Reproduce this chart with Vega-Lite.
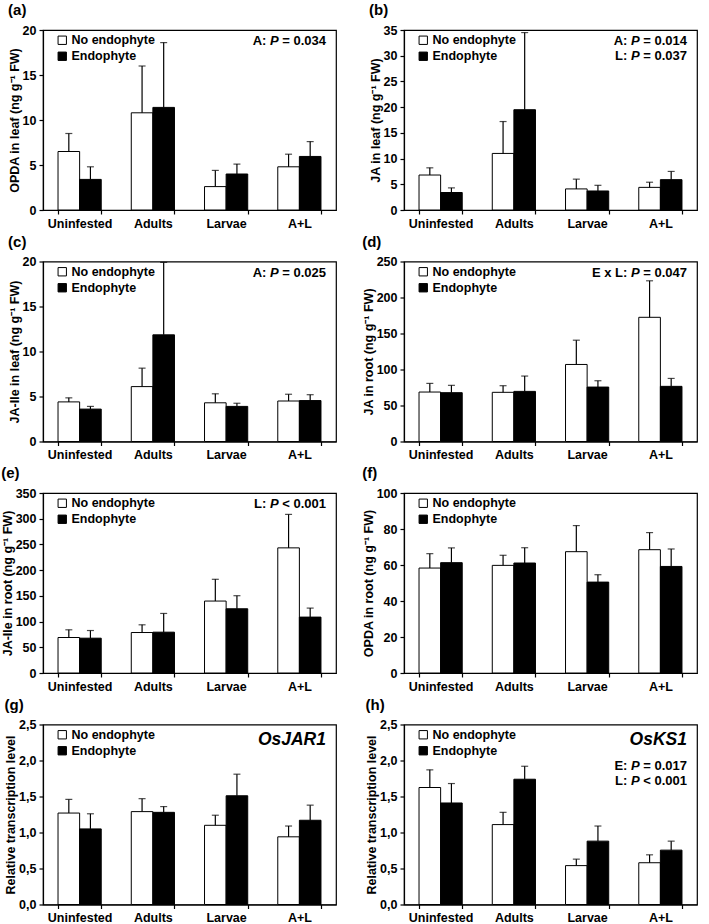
{
  "$schema": "https://vega.github.io/schema/vega-lite/v6.json",
  "padding": {"left": 0, "top": 2, "right": 0, "bottom": 0},
  "datasets": {
    "bars": [
      {"panel": "a", "group": "Uninfested", "series": "No endophyte", "value": 6.5, "upper": 8.5},
      {"panel": "a", "group": "Uninfested", "series": "Endophyte", "value": 3.4, "upper": 4.8},
      {"panel": "a", "group": "Adults", "series": "No endophyte", "value": 10.8, "upper": 16.0},
      {"panel": "a", "group": "Adults", "series": "Endophyte", "value": 11.4, "upper": 18.6},
      {"panel": "a", "group": "Larvae", "series": "No endophyte", "value": 2.6, "upper": 4.4},
      {"panel": "a", "group": "Larvae", "series": "Endophyte", "value": 4.0, "upper": 5.1},
      {"panel": "a", "group": "A+L", "series": "No endophyte", "value": 4.8, "upper": 6.2},
      {"panel": "a", "group": "A+L", "series": "Endophyte", "value": 5.95, "upper": 7.6},
      {"panel": "b", "group": "Uninfested", "series": "No endophyte", "value": 6.8, "upper": 8.2},
      {"panel": "b", "group": "Uninfested", "series": "Endophyte", "value": 3.4, "upper": 4.3},
      {"panel": "b", "group": "Adults", "series": "No endophyte", "value": 11.0, "upper": 17.2},
      {"panel": "b", "group": "Adults", "series": "Endophyte", "value": 19.5, "upper": 34.5},
      {"panel": "b", "group": "Larvae", "series": "No endophyte", "value": 4.1, "upper": 6.0},
      {"panel": "b", "group": "Larvae", "series": "Endophyte", "value": 3.7, "upper": 4.8},
      {"panel": "b", "group": "A+L", "series": "No endophyte", "value": 4.4, "upper": 5.4},
      {"panel": "b", "group": "A+L", "series": "Endophyte", "value": 5.9, "upper": 7.5},
      {"panel": "c", "group": "Uninfested", "series": "No endophyte", "value": 4.4, "upper": 4.85},
      {"panel": "c", "group": "Uninfested", "series": "Endophyte", "value": 3.6, "upper": 3.9},
      {"panel": "c", "group": "Adults", "series": "No endophyte", "value": 6.1, "upper": 8.15},
      {"panel": "c", "group": "Adults", "series": "Endophyte", "value": 11.85, "upper": 19.9},
      {"panel": "c", "group": "Larvae", "series": "No endophyte", "value": 4.3, "upper": 5.3},
      {"panel": "c", "group": "Larvae", "series": "Endophyte", "value": 3.9, "upper": 4.25},
      {"panel": "c", "group": "A+L", "series": "No endophyte", "value": 4.5, "upper": 5.25},
      {"panel": "c", "group": "A+L", "series": "Endophyte", "value": 4.55, "upper": 5.2},
      {"panel": "d", "group": "Uninfested", "series": "No endophyte", "value": 68.7, "upper": 80.7},
      {"panel": "d", "group": "Uninfested", "series": "Endophyte", "value": 67.8, "upper": 78.0},
      {"panel": "d", "group": "Adults", "series": "No endophyte", "value": 68.3, "upper": 77.5},
      {"panel": "d", "group": "Adults", "series": "Endophyte", "value": 69.6, "upper": 90.9},
      {"panel": "d", "group": "Larvae", "series": "No endophyte", "value": 107.0, "upper": 140.7},
      {"panel": "d", "group": "Larvae", "series": "Endophyte", "value": 75.6, "upper": 84.4},
      {"panel": "d", "group": "A+L", "series": "No endophyte", "value": 172.5, "upper": 223.2},
      {"panel": "d", "group": "A+L", "series": "Endophyte", "value": 76.6, "upper": 87.6},
      {"panel": "e", "group": "Uninfested", "series": "No endophyte", "value": 69.0, "upper": 84.0},
      {"panel": "e", "group": "Uninfested", "series": "Endophyte", "value": 67.7, "upper": 82.6},
      {"panel": "e", "group": "Adults", "series": "No endophyte", "value": 78.7, "upper": 93.7},
      {"panel": "e", "group": "Adults", "series": "Endophyte", "value": 79.4, "upper": 115.8},
      {"panel": "e", "group": "Larvae", "series": "No endophyte", "value": 139.9, "upper": 182.2},
      {"panel": "e", "group": "Larvae", "series": "Endophyte", "value": 124.9, "upper": 150.3},
      {"panel": "e", "group": "A+L", "series": "No endophyte", "value": 243.3, "upper": 308.4},
      {"panel": "e", "group": "A+L", "series": "Endophyte", "value": 108.7, "upper": 126.2},
      {"panel": "f", "group": "Uninfested", "series": "No endophyte", "value": 58.3, "upper": 66.3},
      {"panel": "f", "group": "Uninfested", "series": "Endophyte", "value": 61.3, "upper": 69.5},
      {"panel": "f", "group": "Adults", "series": "No endophyte", "value": 59.8, "upper": 65.4},
      {"panel": "f", "group": "Adults", "series": "Endophyte", "value": 61.1, "upper": 69.6},
      {"panel": "f", "group": "Larvae", "series": "No endophyte", "value": 67.4, "upper": 81.9},
      {"panel": "f", "group": "Larvae", "series": "Endophyte", "value": 50.5, "upper": 54.6},
      {"panel": "f", "group": "A+L", "series": "No endophyte", "value": 68.5, "upper": 78.0},
      {"panel": "f", "group": "A+L", "series": "Endophyte", "value": 59.2, "upper": 68.9},
      {"panel": "g", "group": "Uninfested", "series": "No endophyte", "value": 1.27, "upper": 1.46},
      {"panel": "g", "group": "Uninfested", "series": "Endophyte", "value": 1.05, "upper": 1.26},
      {"panel": "g", "group": "Adults", "series": "No endophyte", "value": 1.29, "upper": 1.47},
      {"panel": "g", "group": "Adults", "series": "Endophyte", "value": 1.28, "upper": 1.36},
      {"panel": "g", "group": "Larvae", "series": "No endophyte", "value": 1.10, "upper": 1.24},
      {"panel": "g", "group": "Larvae", "series": "Endophyte", "value": 1.51, "upper": 1.81},
      {"panel": "g", "group": "A+L", "series": "No endophyte", "value": 0.94, "upper": 1.09},
      {"panel": "g", "group": "A+L", "series": "Endophyte", "value": 1.17, "upper": 1.38},
      {"panel": "h", "group": "Uninfested", "series": "No endophyte", "value": 1.625, "upper": 1.87},
      {"panel": "h", "group": "Uninfested", "series": "Endophyte", "value": 1.41, "upper": 1.68},
      {"panel": "h", "group": "Adults", "series": "No endophyte", "value": 1.11, "upper": 1.28},
      {"panel": "h", "group": "Adults", "series": "Endophyte", "value": 1.74, "upper": 1.92},
      {"panel": "h", "group": "Larvae", "series": "No endophyte", "value": 0.54, "upper": 0.63},
      {"panel": "h", "group": "Larvae", "series": "Endophyte", "value": 0.88, "upper": 1.09},
      {"panel": "h", "group": "A+L", "series": "No endophyte", "value": 0.58, "upper": 0.69},
      {"panel": "h", "group": "A+L", "series": "Endophyte", "value": 0.755, "upper": 0.88}
    ],
    "notes": [
      {"panel": "a", "pre": ["A:"], "p": ["P"], "post": ["= 0.034"]},
      {"panel": "b", "pre": ["A:", "L:"], "p": ["P", "P"], "post": ["= 0.014", "= 0.037"]},
      {"panel": "c", "pre": ["A:"], "p": ["P"], "post": ["= 0.025"]},
      {"panel": "d", "pre": ["E x L:"], "p": ["P"], "post": ["= 0.047"]},
      {"panel": "e", "pre": ["L:"], "p": ["P"], "post": ["< 0.001"]},
      {"panel": "h", "pre": ["E:", "L:"], "p": ["P", "P"], "post": ["= 0.017", "< 0.001"]}
    ],
    "genes": [
      {"panel": "g", "gene": "OsJAR1"},
      {"panel": "h", "gene": "OsKS1"}
    ]
  },
  "columns": 2,
  "spacing": {"row": 2.5, "column": 24},
  "resolve": {"scale": {"fill": "independent", "y": "independent", "x": "independent", "xOffset": "independent"}, "legend": {"fill": "independent"}, "axis": {"y": "independent", "x": "independent"}},
  "concat": [
    {
      "title": "(a)", "width": 293, "height": 180,
      "layer": [
        {"data": {"name": "bars"}, "transform": [{"filter": "datum.panel == 'a'"}],
         "mark": {"type": "bar", "stroke": "black", "strokeWidth": 1},
         "encoding": {
           "x": {"field": "group", "type": "nominal", "sort": ["Uninfested", "Adults", "Larvae", "A+L"], "scale": {"paddingInner": 0.41, "paddingOuter": 0.205}},
           "xOffset": {"field": "series", "type": "nominal", "sort": ["No endophyte", "Endophyte"], "scale": {"paddingInner": 0, "paddingOuter": 0}},
           "y": {"field": "value", "type": "quantitative", "scale": {"domain": [0, 20], "nice": false}, "axis": {"title": "OPDA in leaf (ng g⁻¹ FW)", "values": [0, 5, 10, 15, 20], "tickCount": 20}},
           "fill": {"field": "series", "type": "nominal", "sort": ["No endophyte", "Endophyte"], "scale": {"domain": ["No endophyte", "Endophyte"], "range": ["white", "black"]}, "legend": {"orient": "none", "legendX": 13, "legendY": 4}}
         }},
        {"data": {"name": "bars"}, "transform": [{"filter": "datum.panel == 'a'"}],
         "mark": {"type": "rule", "color": "black", "strokeWidth": 1.2},
         "encoding": {
           "x": {"field": "group", "type": "nominal", "sort": ["Uninfested", "Adults", "Larvae", "A+L"]},
           "xOffset": {"field": "series", "type": "nominal", "sort": ["No endophyte", "Endophyte"]},
           "y": {"field": "value", "type": "quantitative"}, "y2": {"field": "upper"}
         }},
        {"data": {"name": "bars"}, "transform": [{"filter": "datum.panel == 'a'"}],
         "mark": {"type": "tick", "color": "black", "thickness": 1.2, "size": 7},
         "encoding": {
           "x": {"field": "group", "type": "nominal", "sort": ["Uninfested", "Adults", "Larvae", "A+L"]},
           "xOffset": {"field": "series", "type": "nominal", "sort": ["No endophyte", "Endophyte"]},
           "y": {"field": "upper", "type": "quantitative"}
         }},
        {"data": {"name": "notes"}, "transform": [{"filter": "datum.panel == 'a'"}],
         "mark": {"type": "text", "align": "right", "baseline": "top", "fontSize": 13, "fontWeight": "bold", "lineHeight": 15, "dx": -10},
         "encoding": {"x": {"value": "width"}, "y": {"value": 5}, "text": {"field": "post", "type": "nominal"}}},
        {"data": {"name": "notes"}, "transform": [{"filter": "datum.panel == 'a'"}],
         "mark": {"type": "text", "align": "right", "baseline": "top", "fontSize": 13, "fontWeight": "bold", "fontStyle": "italic", "lineHeight": 15, "dx": -57.3},
         "encoding": {"x": {"value": "width"}, "y": {"value": 5}, "text": {"field": "p", "type": "nominal"}}},
        {"data": {"name": "notes"}, "transform": [{"filter": "datum.panel == 'a'"}],
         "mark": {"type": "text", "align": "right", "baseline": "top", "fontSize": 13, "fontWeight": "bold", "lineHeight": 15, "dx": -69.6},
         "encoding": {"x": {"value": "width"}, "y": {"value": 5}, "text": {"field": "pre", "type": "nominal"}}}
      ]
    },
    {
      "title": "(b)", "width": 293, "height": 180,
      "layer": [
        {"data": {"name": "bars"}, "transform": [{"filter": "datum.panel == 'b'"}],
         "mark": {"type": "bar", "stroke": "black", "strokeWidth": 1},
         "encoding": {
           "x": {"field": "group", "type": "nominal", "sort": ["Uninfested", "Adults", "Larvae", "A+L"], "scale": {"paddingInner": 0.41, "paddingOuter": 0.205}},
           "xOffset": {"field": "series", "type": "nominal", "sort": ["No endophyte", "Endophyte"], "scale": {"paddingInner": 0, "paddingOuter": 0}},
           "y": {"field": "value", "type": "quantitative", "scale": {"domain": [0, 35], "nice": false}, "axis": {"title": "JA in leaf (ng g⁻¹ FW)", "values": [0, 5, 10, 15, 20, 25, 30, 35], "tickCount": 20}},
           "fill": {"field": "series", "type": "nominal", "sort": ["No endophyte", "Endophyte"], "scale": {"domain": ["No endophyte", "Endophyte"], "range": ["white", "black"]}, "legend": {"orient": "none", "legendX": 13, "legendY": 4}}
         }},
        {"data": {"name": "bars"}, "transform": [{"filter": "datum.panel == 'b'"}],
         "mark": {"type": "rule", "color": "black", "strokeWidth": 1.2},
         "encoding": {
           "x": {"field": "group", "type": "nominal", "sort": ["Uninfested", "Adults", "Larvae", "A+L"]},
           "xOffset": {"field": "series", "type": "nominal", "sort": ["No endophyte", "Endophyte"]},
           "y": {"field": "value", "type": "quantitative"}, "y2": {"field": "upper"}
         }},
        {"data": {"name": "bars"}, "transform": [{"filter": "datum.panel == 'b'"}],
         "mark": {"type": "tick", "color": "black", "thickness": 1.2, "size": 7},
         "encoding": {
           "x": {"field": "group", "type": "nominal", "sort": ["Uninfested", "Adults", "Larvae", "A+L"]},
           "xOffset": {"field": "series", "type": "nominal", "sort": ["No endophyte", "Endophyte"]},
           "y": {"field": "upper", "type": "quantitative"}
         }},
        {"data": {"name": "notes"}, "transform": [{"filter": "datum.panel == 'b'"}],
         "mark": {"type": "text", "align": "right", "baseline": "top", "fontSize": 13, "fontWeight": "bold", "lineHeight": 15, "dx": -10},
         "encoding": {"x": {"value": "width"}, "y": {"value": 5}, "text": {"field": "post", "type": "nominal"}}},
        {"data": {"name": "notes"}, "transform": [{"filter": "datum.panel == 'b'"}],
         "mark": {"type": "text", "align": "right", "baseline": "top", "fontSize": 13, "fontWeight": "bold", "fontStyle": "italic", "lineHeight": 15, "dx": -57.3},
         "encoding": {"x": {"value": "width"}, "y": {"value": 5}, "text": {"field": "p", "type": "nominal"}}},
        {"data": {"name": "notes"}, "transform": [{"filter": "datum.panel == 'b'"}],
         "mark": {"type": "text", "align": "right", "baseline": "top", "fontSize": 13, "fontWeight": "bold", "lineHeight": 15, "dx": -69.6},
         "encoding": {"x": {"value": "width"}, "y": {"value": 5}, "text": {"field": "pre", "type": "nominal"}}}
      ]
    },
    {
      "title": "(c)", "width": 293, "height": 180,
      "layer": [
        {"data": {"name": "bars"}, "transform": [{"filter": "datum.panel == 'c'"}],
         "mark": {"type": "bar", "stroke": "black", "strokeWidth": 1},
         "encoding": {
           "x": {"field": "group", "type": "nominal", "sort": ["Uninfested", "Adults", "Larvae", "A+L"], "scale": {"paddingInner": 0.41, "paddingOuter": 0.205}},
           "xOffset": {"field": "series", "type": "nominal", "sort": ["No endophyte", "Endophyte"], "scale": {"paddingInner": 0, "paddingOuter": 0}},
           "y": {"field": "value", "type": "quantitative", "scale": {"domain": [0, 20], "nice": false}, "axis": {"title": "JA-Ile in leaf (ng g⁻¹ FW)", "values": [0, 5, 10, 15, 20], "tickCount": 20}},
           "fill": {"field": "series", "type": "nominal", "sort": ["No endophyte", "Endophyte"], "scale": {"domain": ["No endophyte", "Endophyte"], "range": ["white", "black"]}, "legend": {"orient": "none", "legendX": 13, "legendY": 4}}
         }},
        {"data": {"name": "bars"}, "transform": [{"filter": "datum.panel == 'c'"}],
         "mark": {"type": "rule", "color": "black", "strokeWidth": 1.2},
         "encoding": {
           "x": {"field": "group", "type": "nominal", "sort": ["Uninfested", "Adults", "Larvae", "A+L"]},
           "xOffset": {"field": "series", "type": "nominal", "sort": ["No endophyte", "Endophyte"]},
           "y": {"field": "value", "type": "quantitative"}, "y2": {"field": "upper"}
         }},
        {"data": {"name": "bars"}, "transform": [{"filter": "datum.panel == 'c'"}],
         "mark": {"type": "tick", "color": "black", "thickness": 1.2, "size": 7},
         "encoding": {
           "x": {"field": "group", "type": "nominal", "sort": ["Uninfested", "Adults", "Larvae", "A+L"]},
           "xOffset": {"field": "series", "type": "nominal", "sort": ["No endophyte", "Endophyte"]},
           "y": {"field": "upper", "type": "quantitative"}
         }},
        {"data": {"name": "notes"}, "transform": [{"filter": "datum.panel == 'c'"}],
         "mark": {"type": "text", "align": "right", "baseline": "top", "fontSize": 13, "fontWeight": "bold", "lineHeight": 15, "dx": -10},
         "encoding": {"x": {"value": "width"}, "y": {"value": 5}, "text": {"field": "post", "type": "nominal"}}},
        {"data": {"name": "notes"}, "transform": [{"filter": "datum.panel == 'c'"}],
         "mark": {"type": "text", "align": "right", "baseline": "top", "fontSize": 13, "fontWeight": "bold", "fontStyle": "italic", "lineHeight": 15, "dx": -57.3},
         "encoding": {"x": {"value": "width"}, "y": {"value": 5}, "text": {"field": "p", "type": "nominal"}}},
        {"data": {"name": "notes"}, "transform": [{"filter": "datum.panel == 'c'"}],
         "mark": {"type": "text", "align": "right", "baseline": "top", "fontSize": 13, "fontWeight": "bold", "lineHeight": 15, "dx": -69.6},
         "encoding": {"x": {"value": "width"}, "y": {"value": 5}, "text": {"field": "pre", "type": "nominal"}}}
      ]
    },
    {
      "title": "(d)", "width": 293, "height": 180,
      "layer": [
        {"data": {"name": "bars"}, "transform": [{"filter": "datum.panel == 'd'"}],
         "mark": {"type": "bar", "stroke": "black", "strokeWidth": 1},
         "encoding": {
           "x": {"field": "group", "type": "nominal", "sort": ["Uninfested", "Adults", "Larvae", "A+L"], "scale": {"paddingInner": 0.41, "paddingOuter": 0.205}},
           "xOffset": {"field": "series", "type": "nominal", "sort": ["No endophyte", "Endophyte"], "scale": {"paddingInner": 0, "paddingOuter": 0}},
           "y": {"field": "value", "type": "quantitative", "scale": {"domain": [0, 250], "nice": false}, "axis": {"title": "JA in root (ng g⁻¹ FW)", "values": [0, 50, 100, 150, 200, 250], "tickCount": 20}},
           "fill": {"field": "series", "type": "nominal", "sort": ["No endophyte", "Endophyte"], "scale": {"domain": ["No endophyte", "Endophyte"], "range": ["white", "black"]}, "legend": {"orient": "none", "legendX": 13, "legendY": 4}}
         }},
        {"data": {"name": "bars"}, "transform": [{"filter": "datum.panel == 'd'"}],
         "mark": {"type": "rule", "color": "black", "strokeWidth": 1.2},
         "encoding": {
           "x": {"field": "group", "type": "nominal", "sort": ["Uninfested", "Adults", "Larvae", "A+L"]},
           "xOffset": {"field": "series", "type": "nominal", "sort": ["No endophyte", "Endophyte"]},
           "y": {"field": "value", "type": "quantitative"}, "y2": {"field": "upper"}
         }},
        {"data": {"name": "bars"}, "transform": [{"filter": "datum.panel == 'd'"}],
         "mark": {"type": "tick", "color": "black", "thickness": 1.2, "size": 7},
         "encoding": {
           "x": {"field": "group", "type": "nominal", "sort": ["Uninfested", "Adults", "Larvae", "A+L"]},
           "xOffset": {"field": "series", "type": "nominal", "sort": ["No endophyte", "Endophyte"]},
           "y": {"field": "upper", "type": "quantitative"}
         }},
        {"data": {"name": "notes"}, "transform": [{"filter": "datum.panel == 'd'"}],
         "mark": {"type": "text", "align": "right", "baseline": "top", "fontSize": 13, "fontWeight": "bold", "lineHeight": 15, "dx": -10},
         "encoding": {"x": {"value": "width"}, "y": {"value": 5}, "text": {"field": "post", "type": "nominal"}}},
        {"data": {"name": "notes"}, "transform": [{"filter": "datum.panel == 'd'"}],
         "mark": {"type": "text", "align": "right", "baseline": "top", "fontSize": 13, "fontWeight": "bold", "fontStyle": "italic", "lineHeight": 15, "dx": -57.3},
         "encoding": {"x": {"value": "width"}, "y": {"value": 5}, "text": {"field": "p", "type": "nominal"}}},
        {"data": {"name": "notes"}, "transform": [{"filter": "datum.panel == 'd'"}],
         "mark": {"type": "text", "align": "right", "baseline": "top", "fontSize": 13, "fontWeight": "bold", "lineHeight": 15, "dx": -69.6},
         "encoding": {"x": {"value": "width"}, "y": {"value": 5}, "text": {"field": "pre", "type": "nominal"}}}
      ]
    },
    {
      "title": "(e)", "width": 293, "height": 180,
      "layer": [
        {"data": {"name": "bars"}, "transform": [{"filter": "datum.panel == 'e'"}],
         "mark": {"type": "bar", "stroke": "black", "strokeWidth": 1},
         "encoding": {
           "x": {"field": "group", "type": "nominal", "sort": ["Uninfested", "Adults", "Larvae", "A+L"], "scale": {"paddingInner": 0.41, "paddingOuter": 0.205}},
           "xOffset": {"field": "series", "type": "nominal", "sort": ["No endophyte", "Endophyte"], "scale": {"paddingInner": 0, "paddingOuter": 0}},
           "y": {"field": "value", "type": "quantitative", "scale": {"domain": [0, 350], "nice": false}, "axis": {"title": "JA-Ile in root (ng g⁻¹ FW)", "values": [0, 50, 100, 150, 200, 250, 300, 350], "tickCount": 20}},
           "fill": {"field": "series", "type": "nominal", "sort": ["No endophyte", "Endophyte"], "scale": {"domain": ["No endophyte", "Endophyte"], "range": ["white", "black"]}, "legend": {"orient": "none", "legendX": 13, "legendY": 4}}
         }},
        {"data": {"name": "bars"}, "transform": [{"filter": "datum.panel == 'e'"}],
         "mark": {"type": "rule", "color": "black", "strokeWidth": 1.2},
         "encoding": {
           "x": {"field": "group", "type": "nominal", "sort": ["Uninfested", "Adults", "Larvae", "A+L"]},
           "xOffset": {"field": "series", "type": "nominal", "sort": ["No endophyte", "Endophyte"]},
           "y": {"field": "value", "type": "quantitative"}, "y2": {"field": "upper"}
         }},
        {"data": {"name": "bars"}, "transform": [{"filter": "datum.panel == 'e'"}],
         "mark": {"type": "tick", "color": "black", "thickness": 1.2, "size": 7},
         "encoding": {
           "x": {"field": "group", "type": "nominal", "sort": ["Uninfested", "Adults", "Larvae", "A+L"]},
           "xOffset": {"field": "series", "type": "nominal", "sort": ["No endophyte", "Endophyte"]},
           "y": {"field": "upper", "type": "quantitative"}
         }},
        {"data": {"name": "notes"}, "transform": [{"filter": "datum.panel == 'e'"}],
         "mark": {"type": "text", "align": "right", "baseline": "top", "fontSize": 13, "fontWeight": "bold", "lineHeight": 15, "dx": -10},
         "encoding": {"x": {"value": "width"}, "y": {"value": 5}, "text": {"field": "post", "type": "nominal"}}},
        {"data": {"name": "notes"}, "transform": [{"filter": "datum.panel == 'e'"}],
         "mark": {"type": "text", "align": "right", "baseline": "top", "fontSize": 13, "fontWeight": "bold", "fontStyle": "italic", "lineHeight": 15, "dx": -57.3},
         "encoding": {"x": {"value": "width"}, "y": {"value": 5}, "text": {"field": "p", "type": "nominal"}}},
        {"data": {"name": "notes"}, "transform": [{"filter": "datum.panel == 'e'"}],
         "mark": {"type": "text", "align": "right", "baseline": "top", "fontSize": 13, "fontWeight": "bold", "lineHeight": 15, "dx": -69.6},
         "encoding": {"x": {"value": "width"}, "y": {"value": 5}, "text": {"field": "pre", "type": "nominal"}}}
      ]
    },
    {
      "title": "(f)", "width": 293, "height": 180,
      "layer": [
        {"data": {"name": "bars"}, "transform": [{"filter": "datum.panel == 'f'"}],
         "mark": {"type": "bar", "stroke": "black", "strokeWidth": 1},
         "encoding": {
           "x": {"field": "group", "type": "nominal", "sort": ["Uninfested", "Adults", "Larvae", "A+L"], "scale": {"paddingInner": 0.41, "paddingOuter": 0.205}},
           "xOffset": {"field": "series", "type": "nominal", "sort": ["No endophyte", "Endophyte"], "scale": {"paddingInner": 0, "paddingOuter": 0}},
           "y": {"field": "value", "type": "quantitative", "scale": {"domain": [0, 100], "nice": false}, "axis": {"title": "OPDA in root (ng g⁻¹ FW)", "values": [0, 20, 40, 60, 80, 100], "tickCount": 20}},
           "fill": {"field": "series", "type": "nominal", "sort": ["No endophyte", "Endophyte"], "scale": {"domain": ["No endophyte", "Endophyte"], "range": ["white", "black"]}, "legend": {"orient": "none", "legendX": 13, "legendY": 4}}
         }},
        {"data": {"name": "bars"}, "transform": [{"filter": "datum.panel == 'f'"}],
         "mark": {"type": "rule", "color": "black", "strokeWidth": 1.2},
         "encoding": {
           "x": {"field": "group", "type": "nominal", "sort": ["Uninfested", "Adults", "Larvae", "A+L"]},
           "xOffset": {"field": "series", "type": "nominal", "sort": ["No endophyte", "Endophyte"]},
           "y": {"field": "value", "type": "quantitative"}, "y2": {"field": "upper"}
         }},
        {"data": {"name": "bars"}, "transform": [{"filter": "datum.panel == 'f'"}],
         "mark": {"type": "tick", "color": "black", "thickness": 1.2, "size": 7},
         "encoding": {
           "x": {"field": "group", "type": "nominal", "sort": ["Uninfested", "Adults", "Larvae", "A+L"]},
           "xOffset": {"field": "series", "type": "nominal", "sort": ["No endophyte", "Endophyte"]},
           "y": {"field": "upper", "type": "quantitative"}
         }}
      ]
    },
    {
      "title": "(g)", "width": 293, "height": 180,
      "layer": [
        {"data": {"name": "bars"}, "transform": [{"filter": "datum.panel == 'g'"}],
         "mark": {"type": "bar", "stroke": "black", "strokeWidth": 1},
         "encoding": {
           "x": {"field": "group", "type": "nominal", "sort": ["Uninfested", "Adults", "Larvae", "A+L"], "scale": {"paddingInner": 0.41, "paddingOuter": 0.205}},
           "xOffset": {"field": "series", "type": "nominal", "sort": ["No endophyte", "Endophyte"], "scale": {"paddingInner": 0, "paddingOuter": 0}},
           "y": {"field": "value", "type": "quantitative", "scale": {"domain": [0, 2.5], "nice": false}, "axis": {"title": "Relative transcription level", "values": [0, 0.5, 1, 1.5, 2, 2.5], "tickCount": 20, "labelExpr": "replace(format(datum.value, '.1f'), '.', ',')"}},
           "fill": {"field": "series", "type": "nominal", "sort": ["No endophyte", "Endophyte"], "scale": {"domain": ["No endophyte", "Endophyte"], "range": ["white", "black"]}, "legend": {"orient": "none", "legendX": 13, "legendY": 4}}
         }},
        {"data": {"name": "bars"}, "transform": [{"filter": "datum.panel == 'g'"}],
         "mark": {"type": "rule", "color": "black", "strokeWidth": 1.2},
         "encoding": {
           "x": {"field": "group", "type": "nominal", "sort": ["Uninfested", "Adults", "Larvae", "A+L"]},
           "xOffset": {"field": "series", "type": "nominal", "sort": ["No endophyte", "Endophyte"]},
           "y": {"field": "value", "type": "quantitative"}, "y2": {"field": "upper"}
         }},
        {"data": {"name": "bars"}, "transform": [{"filter": "datum.panel == 'g'"}],
         "mark": {"type": "tick", "color": "black", "thickness": 1.2, "size": 7},
         "encoding": {
           "x": {"field": "group", "type": "nominal", "sort": ["Uninfested", "Adults", "Larvae", "A+L"]},
           "xOffset": {"field": "series", "type": "nominal", "sort": ["No endophyte", "Endophyte"]},
           "y": {"field": "upper", "type": "quantitative"}
         }},
        {"data": {"name": "genes"}, "transform": [{"filter": "datum.panel == 'g'"}],
         "mark": {"type": "text", "align": "right", "baseline": "middle", "fontSize": 17.5, "fontWeight": "bold", "fontStyle": "italic", "dx": -10},
         "encoding": {"x": {"value": "width"}, "y": {"value": 15}, "text": {"field": "gene", "type": "nominal"}}}
      ]
    },
    {
      "title": "(h)", "width": 293, "height": 180,
      "layer": [
        {"data": {"name": "bars"}, "transform": [{"filter": "datum.panel == 'h'"}],
         "mark": {"type": "bar", "stroke": "black", "strokeWidth": 1},
         "encoding": {
           "x": {"field": "group", "type": "nominal", "sort": ["Uninfested", "Adults", "Larvae", "A+L"], "scale": {"paddingInner": 0.41, "paddingOuter": 0.205}},
           "xOffset": {"field": "series", "type": "nominal", "sort": ["No endophyte", "Endophyte"], "scale": {"paddingInner": 0, "paddingOuter": 0}},
           "y": {"field": "value", "type": "quantitative", "scale": {"domain": [0, 2.5], "nice": false}, "axis": {"title": "Relative transcription level", "values": [0, 0.5, 1, 1.5, 2, 2.5], "tickCount": 20, "labelExpr": "replace(format(datum.value, '.1f'), '.', ',')"}},
           "fill": {"field": "series", "type": "nominal", "sort": ["No endophyte", "Endophyte"], "scale": {"domain": ["No endophyte", "Endophyte"], "range": ["white", "black"]}, "legend": {"orient": "none", "legendX": 13, "legendY": 4}}
         }},
        {"data": {"name": "bars"}, "transform": [{"filter": "datum.panel == 'h'"}],
         "mark": {"type": "rule", "color": "black", "strokeWidth": 1.2},
         "encoding": {
           "x": {"field": "group", "type": "nominal", "sort": ["Uninfested", "Adults", "Larvae", "A+L"]},
           "xOffset": {"field": "series", "type": "nominal", "sort": ["No endophyte", "Endophyte"]},
           "y": {"field": "value", "type": "quantitative"}, "y2": {"field": "upper"}
         }},
        {"data": {"name": "bars"}, "transform": [{"filter": "datum.panel == 'h'"}],
         "mark": {"type": "tick", "color": "black", "thickness": 1.2, "size": 7},
         "encoding": {
           "x": {"field": "group", "type": "nominal", "sort": ["Uninfested", "Adults", "Larvae", "A+L"]},
           "xOffset": {"field": "series", "type": "nominal", "sort": ["No endophyte", "Endophyte"]},
           "y": {"field": "upper", "type": "quantitative"}
         }},
        {"data": {"name": "genes"}, "transform": [{"filter": "datum.panel == 'h'"}],
         "mark": {"type": "text", "align": "right", "baseline": "middle", "fontSize": 17.5, "fontWeight": "bold", "fontStyle": "italic", "dx": -10},
         "encoding": {"x": {"value": "width"}, "y": {"value": 15}, "text": {"field": "gene", "type": "nominal"}}},
        {"data": {"name": "notes"}, "transform": [{"filter": "datum.panel == 'h'"}],
         "mark": {"type": "text", "align": "right", "baseline": "top", "fontSize": 13, "fontWeight": "bold", "lineHeight": 15, "dx": -10},
         "encoding": {"x": {"value": "width"}, "y": {"value": 35}, "text": {"field": "post", "type": "nominal"}}},
        {"data": {"name": "notes"}, "transform": [{"filter": "datum.panel == 'h'"}],
         "mark": {"type": "text", "align": "right", "baseline": "top", "fontSize": 13, "fontWeight": "bold", "fontStyle": "italic", "lineHeight": 15, "dx": -57.3},
         "encoding": {"x": {"value": "width"}, "y": {"value": 35}, "text": {"field": "p", "type": "nominal"}}},
        {"data": {"name": "notes"}, "transform": [{"filter": "datum.panel == 'h'"}],
         "mark": {"type": "text", "align": "right", "baseline": "top", "fontSize": 13, "fontWeight": "bold", "lineHeight": 15, "dx": -69.6},
         "encoding": {"x": {"value": "width"}, "y": {"value": 35}, "text": {"field": "pre", "type": "nominal"}}}
      ]
    }
  ],
  "config": {
    "font": "Liberation Sans",
    "background": "white",
    "view": {"stroke": "black", "strokeWidth": 1.2},
    "text": {"color": "black", "font": "Liberation Sans"},
    "axis": {"grid": false, "labelOverlap": false, "labelFont": "Liberation Sans", "labelFontWeight": "bold", "labelFontSize": 12.5, "labelColor": "black", "titleFont": "Liberation Sans", "titleFontWeight": "bold", "titleFontSize": 12.5, "titleColor": "black", "domainColor": "black", "domainWidth": 1.2, "tickColor": "black", "tickWidth": 1.2, "tickSize": 4},
    "axisX": {"title": null, "labelAngle": 0, "tickBand": "extent", "labelPadding": 3},
    "axisY": {"titlePadding": 1, "labelPadding": 3},
    "legend": {"title": null, "symbolType": "square", "symbolSize": 70, "symbolStrokeColor": "black", "symbolStrokeWidth": 1, "labelFont": "Liberation Sans", "labelFontSize": 12.5, "labelFontWeight": "bold", "labelColor": "black", "labelOffset": 3, "rowPadding": 3},
    "title": {"anchor": "start", "frame": "bounds", "fontSize": 15, "fontWeight": "bold", "color": "black", "font": "Liberation Sans", "offset": 6}
  }
}
